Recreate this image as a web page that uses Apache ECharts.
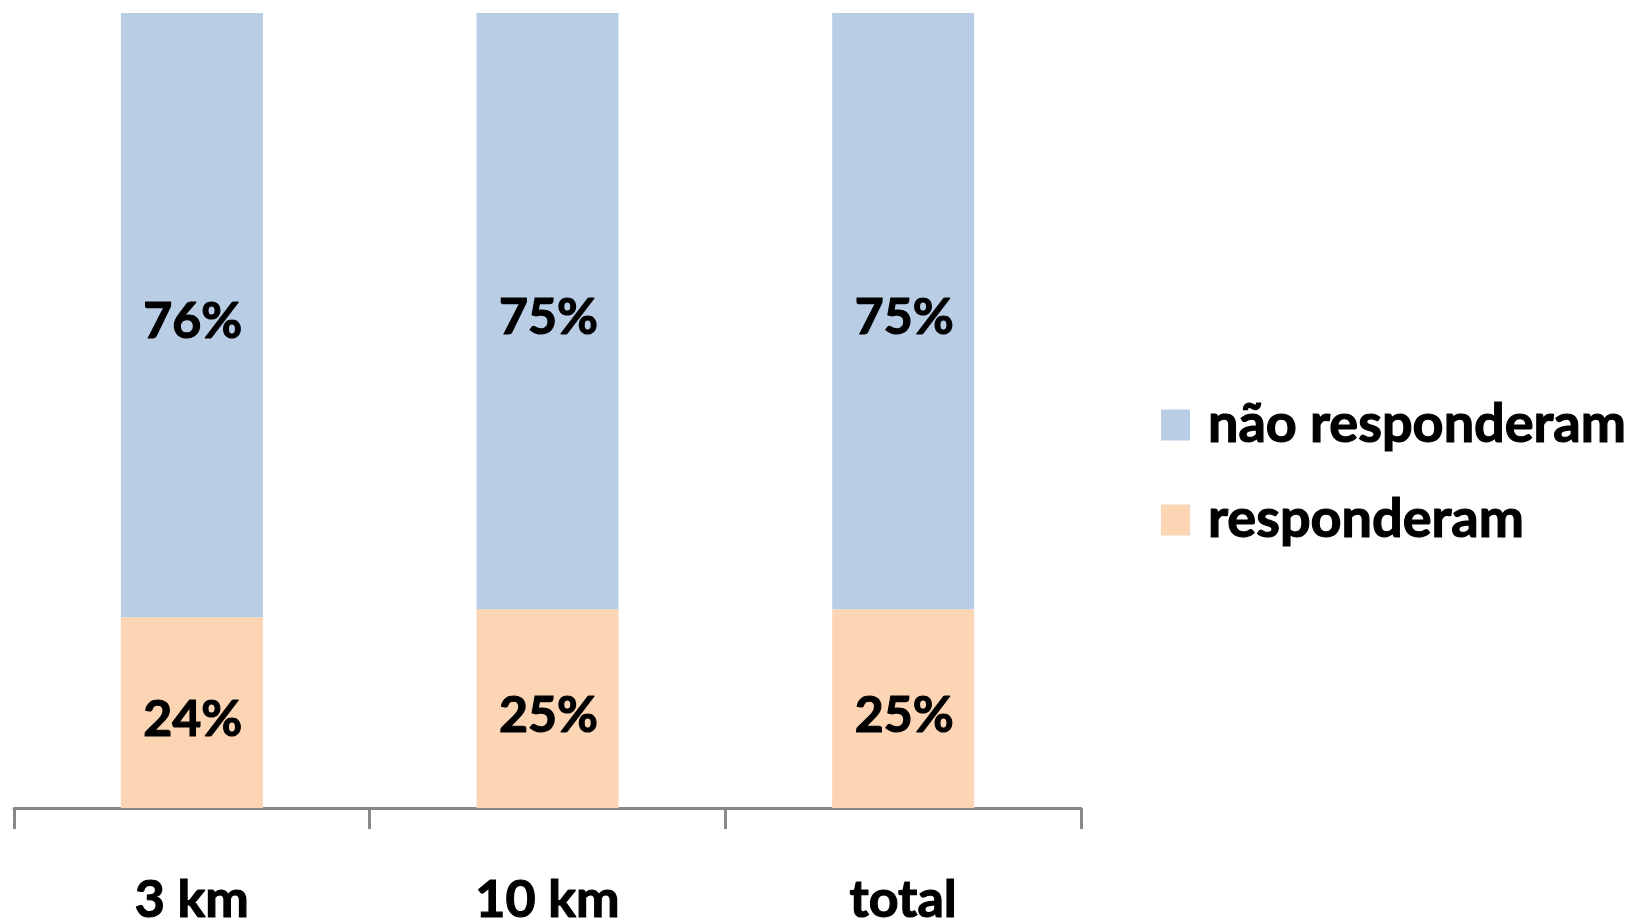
<!DOCTYPE html>
<html>
<head>
<meta charset="utf-8">
<script src="https://cdn.jsdelivr.net/npm/echarts@6/dist/echarts.min.js"></script>
<style>
html,body{margin:0;padding:0;background:#fff;}
#chart{width:1639px;height:922px;}
</style>
</head>
<body>
<div id="chart"></div>
<script>
const categories = ['3 km', '10 km', 'total'];
const responderam = [24, 25, 25];
const naoResponderam = [76, 75, 75];
const seriesNames = ['não responderam', 'responderam'];

const FONT = 'Lato';
const WEIGHT = 'bold';
const chart = echarts.init(document.getElementById('chart'), null, {renderer: 'canvas'});
const heavy = {textBorderColor: '#000', textBorderWidth: 1.2};
const labelStyle = Object.assign({
  show: true,
  position: 'inside',
  offset: [1, 7],
  formatter: p => Math.round(p.value) + '%',
  color: '#000',
  fontFamily: FONT,
  fontWeight: WEIGHT,
  fontSize: 50
}, heavy);
chart.setOption({
  animation: false,
  backgroundColor: '#fff',
  grid: {left: 14, right: 558, top: 13, bottom: 114, containLabel: false, outerBoundsMode: 'none'},
  legend: {
    orient: 'vertical',
    left: 1161,
    top: 394,
    padding: 0,
    itemWidth: 29,
    itemHeight: 31,
    itemGap: 33,
    icon: 'rect',
    data: seriesNames,
    textStyle: Object.assign({
      fontFamily: FONT, fontWeight: WEIGHT, fontSize: 54, color: '#000',
      lineHeight: 62, padding: [0, 0, 0, 13]
    }, heavy)
  },
  xAxis: {
    type: 'category',
    data: categories,
    axisLine: {show: true, lineStyle: {color: '#898989', width: 3}},
    axisTick: {show: true, length: 21, alignWithLabel: false, lineStyle: {color: '#898989', width: 3}},
    axisLabel: Object.assign({
      color: '#000', fontFamily: FONT, fontWeight: WEIGHT, fontSize: 52, margin: 66
    }, heavy)
  },
  yAxis: {
    type: 'value', min: 0, max: 100, show: false,
    splitLine: {show: false}
  },
  series: [
    {
      name: 'responderam', type: 'bar', stack: 'total', barWidth: 142,
      data: responderam,
      itemStyle: {color: '#FCD5B5'},
      label: labelStyle
    },
    {
      name: 'não responderam', type: 'bar', stack: 'total', barWidth: 142,
      data: naoResponderam,
      itemStyle: {color: '#B9CDE5'},
      label: labelStyle
    }
  ]
});
</script>
</body>
</html>
